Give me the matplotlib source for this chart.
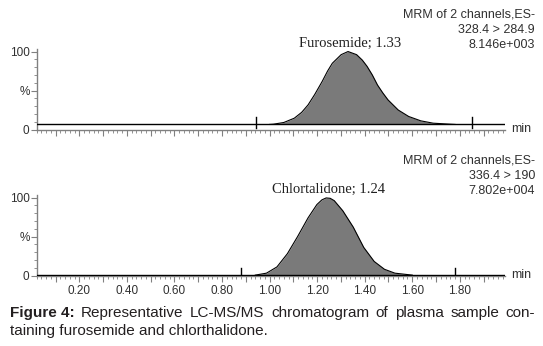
import numpy as np
import matplotlib
matplotlib.use("Agg")
import matplotlib.pyplot as plt
from matplotlib.ticker import MultipleLocator, FixedLocator, FixedFormatter

# peak data (time in min, intensity in %)
furo_t = [1.00, 1.016, 1.06, 1.104, 1.135, 1.162, 1.19, 1.221, 1.244, 1.264, 1.301, 1.33,
          1.366, 1.39, 1.41, 1.432, 1.454, 1.476, 1.498, 1.541, 1.585, 1.636, 1.688, 1.76, 1.78]
furo_i = [6.5, 6.8, 9, 14.5, 22, 31.6, 45, 61.5, 75, 85, 96, 100,
          96, 89, 81, 70, 57, 47, 38, 25, 16.7, 11.1, 8.1, 6.8, 6.5]
furo_base = 6.5
furo_marks = [0.945, 1.85]

chlor_t = [0.94, 0.987, 1.031, 1.075, 1.118, 1.162, 1.199, 1.22, 1.238, 1.255, 1.272,
           1.308, 1.352, 1.396, 1.44, 1.483, 1.527, 1.60]
chlor_i = [0.5, 3, 11, 28, 50, 74, 91, 97, 99.5, 99, 96,
           83, 62, 36, 18, 8, 3, 0.5]
chlor_base = 0.5
chlor_marks = [0.88, 1.78]

x_labels = ['0.20', '0.40', '0.60', '0.80', '1.00', '1.20', '1.40', '1.60', '1.80']

panels = [
    (furo_t, furo_i, furo_base, furo_marks, 'Furosemide; 1.33',
     ['MRM of 2 channels,ES-', '328.4 > 284.9', '8.146e+003'], False),
    (chlor_t, chlor_i, chlor_base, chlor_marks, 'Chlortalidone; 1.24',
     ['MRM of 2 channels,ES-', '336.4 > 190', '7.802e+004'], True),
]

W, H = 543, 346
fig = plt.figure(figsize=(W / 100, H / 100), dpi=100)

grey = '#808080'
txt = '#303030'
x0, x1 = 0.02, 1.99
left_px, right_px = 36.5, 505
bottoms_px = [129.5, 275.5]

for k, (t, inten, base, marks, name, head, show_lab) in enumerate(panels):
    b = bottoms_px[k]
    ax = fig.add_axes([left_px / W, (H - b) / H, (right_px - left_px) / W, 80.3 / H])
    ax.set_xlim(x0, x1)
    ax.set_ylim(0, 103)
    for s in ['top', 'right']:
        ax.spines[s].set_visible(False)
    for s in ['left', 'bottom']:
        ax.spines[s].set_color(grey)
        ax.spines[s].set_linewidth(1)

    # baseline and peak
    ax.plot([x0, x1], [base, base], color='black', lw=1, zorder=3)
    ax.fill_between(t, base, inten, color='#7a7a7a', lw=0, zorder=2)
    ax.plot(t, inten, color='black', lw=0.8, zorder=3)
    for m in marks:
        ax.plot([m, m], [base - 5, base + 9], color='black', lw=1, zorder=3)

    # ticks
    ax.xaxis.set_major_locator(MultipleLocator(0.1))
    ax.xaxis.set_minor_locator(MultipleLocator(0.02))
    if show_lab:
        ticks = np.round(np.arange(0.1, 1.95, 0.1), 2)
        labs = []
        for v in ticks:
            s = '%.2f' % v
            labs.append(s if s in x_labels else '')
        ax.xaxis.set_major_locator(FixedLocator(ticks))
        ax.xaxis.set_major_formatter(FixedFormatter(labs))
    else:
        ax.set_xticklabels([])
    ax.yaxis.set_major_locator(FixedLocator([0, 50, 100]))
    ax.yaxis.set_major_formatter(FixedFormatter(['0', '%', '100']))
    ax.yaxis.set_minor_locator(MultipleLocator(10))
    ax.tick_params(which='major', length=4, width=0.8, color=grey, labelsize=8.5,
                   labelcolor=txt, pad=1)
    ax.tick_params(which='minor', length=2, width=0.6, color=grey)
    ax.tick_params(axis='x', which='major', pad=3)
    for lab in ax.get_xticklabels() + ax.get_yticklabels():
        lab.set_family('Liberation Sans')

    ax.text(1.013, 0, 'min', transform=ax.transAxes, fontsize=9, color=txt,
            family='Liberation Sans', va='center', ha='left')

    # peak label
    apex = t[int(np.argmax(inten))]
    ax.text(apex + 0.01, 101.5, name, fontsize=10.5, family='Liberation Serif',
            ha='center', va='bottom', color='#202020', clip_on=False)

    # header
    top_px = b - 80.3
    for j, line in enumerate(head):
        fig.text(535 / W, 1 - (top_px - 34.5 + j * 15) / H, line, fontsize=9,
                 family='Liberation Sans', ha='right', va='center', color=txt)

# caption, first line justified between 10 and 535 px
fig.canvas.draw()
r = fig.canvas.get_renderer()
cap_col = '#231f20'
cap_y1 = 1 - 313 / H
cap_y2 = 1 - 331 / H
words = ['Representative', 'LC-MS/MS', 'chromatogram', 'of', 'plasma', 'sample', 'con-']
t1 = fig.text(10 / W, cap_y1, 'Figure 4:', fontsize=11, fontweight='bold',
              family='Liberation Sans', va='center', ha='left', color=cap_col)
items = [t1]
for w in words:
    items.append(fig.text(0, cap_y1, w, fontsize=11, family='Liberation Sans',
                          va='center', ha='left', color=cap_col))
widths = [it.get_window_extent(r).width for it in items]
gap = (525 - sum(widths)) / (len(items) - 1)
xpos = 10 + widths[0] + gap
for it, wd in zip(items[1:], widths[1:]):
    it.set_x(xpos / W)
    xpos += wd + gap
fig.text(10 / W, cap_y2, 'taining furosemide and chlorthalidone.', fontsize=11,
         family='Liberation Sans', va='center', ha='left', color=cap_col)

fig.savefig('out.png', dpi=100)
